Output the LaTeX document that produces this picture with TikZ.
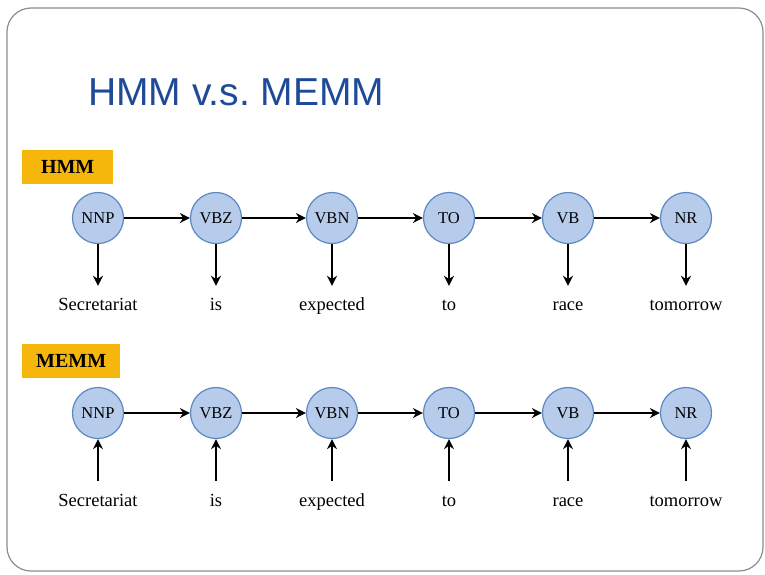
\documentclass[tikz,border=0pt]{standalone}
\usepackage{fontspec}
\setmainfont{Liberation Serif}
\newfontfamily\titlefont{Liberation Sans}
\usetikzlibrary{arrows.meta}
\definecolor{titleblue}{RGB}{30,74,152}
\definecolor{tagorange}{RGB}{246,183,12}
\definecolor{nodefill}{RGB}{183,204,234}
\definecolor{nodeline}{RGB}{92,136,194}
\definecolor{framegray}{RGB}{140,140,140}
\tikzset{
  state/.style={circle, draw=nodeline, fill=nodefill, line width=1.2pt, minimum size=51pt, inner sep=0pt, font=\rmfamily\fontsize{16.5}{17}\selectfont},
  word/.style={anchor=base, inner xsep=0pt, inner ysep=11pt, text height=13pt, text depth=4pt, font=\rmfamily\fontsize{18.5}{20}\selectfont},
  tag/.style={fill=tagorange, anchor=north west, inner sep=0pt, font=\rmfamily\bfseries\fontsize{20}{21}\selectfont},
  link/.style={-{Stealth[length=10pt,width=10pt]}, line width=2pt, black}
}
\begin{document}
\begin{tikzpicture}[x=1pt,y=-1pt]
\useasboundingbox (0,0) rectangle (765,574);
\draw[framegray, line width=1.2pt, rounded corners=24pt] (7,8) rectangle (763,571);
\node[anchor=base west, inner sep=0pt, text=titleblue, font=\titlefont\fontsize{39}{40}\selectfont] (title) at (88,105) {HMM v.s.\ MEMM};
% tags
\node[tag, minimum width=91pt, minimum height=34pt] (hmmtag) at (22,150) {HMM};
\node[tag, minimum width=98pt, minimum height=34pt] (memmtag) at (22,344) {MEMM};
% rows
\foreach \i/\x/\t/\w in {1/98/NNP/Secretariat, 2/216/VBZ/is, 3/332/VBN/expected, 4/449/TO/to, 5/568/VB/race, 6/686/NR/tomorrow}{
  \node[state] (h\i) at (\x,218) {\t};
  \node[word] (hw\i) at (\x,310) {\w};
  \draw[link] (h\i.south) -- (hw\i.north);
  \node[state] (m\i) at (\x,413) {\t};
  \node[word, inner ysep=12pt] (mw\i) at (\x,506) {\w};
  \draw[link] (mw\i.north) -- (m\i.south);
}
\foreach \a/\b in {1/2,2/3,3/4,4/5,5/6}{
  \draw[link] (h\a) -- (h\b);
  \draw[link] (m\a) -- (m\b);
}
\end{tikzpicture}
\end{document}
